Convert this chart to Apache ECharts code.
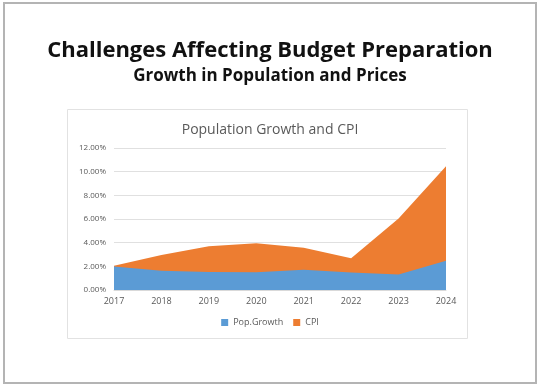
<!DOCTYPE html>
<html><head><meta charset="utf-8">
<script src="https://cdn.jsdelivr.net/npm/echarts@6/dist/echarts.min.js"></script>
<style>html,body{margin:0;padding:0;background:#fff}#c{width:540px;height:385px}</style>
</head><body><div id="c"></div>
<script>
const years = ['2017','2018','2019','2020','2021','2022','2023','2024'];
const popGrowth = [1.98, 1.62, 1.53, 1.50, 1.72, 1.47, 1.30, 2.48];
const cpi = [2.05, 2.95, 3.70, 3.95, 3.58, 2.68, 6.05, 10.45];
const yTicks = [0, 2, 4, 6, 8, 10, 12];

const chart = echarts.init(document.getElementById('c'), null, {renderer:'canvas'});
chart.setOption({
  animation:false,
  backgroundColor:'#fff',
  graphic:[
    {type:'rect', shape:{x:4, y:3, width:532, height:380}, style:{fill:'none', stroke:'#b4b4b4', lineWidth:2}, z:-10},
    {type:'rect', shape:{x:67.5, y:109.5, width:400, height:229}, style:{fill:'#fff', stroke:'#e2e2e2', lineWidth:1}, z:-9}
  ],
  title:[
    {text:'Challenges Affecting Budget Preparation', left:'center', top:35,
     textStyle:{fontFamily:'Open Sans', fontWeight:'bold', fontSize:22, color:'#111'}},
    {text:'Growth in Population and Prices', left:'center', top:63,
     textStyle:{fontFamily:'Open Sans', fontWeight:'bold', fontSize:17, color:'#111'}},
    {text:'Population Growth and CPI', left:'center', top:118,
     textStyle:{fontFamily:'Open Sans', fontWeight:'normal', fontSize:14, color:'#595959'}}
  ],
  legend:{
    data:['Pop.Growth','CPI'], bottom:53, left:'center', itemWidth:7, itemHeight:7, itemGap:10,
    icon:'rect', textStyle:{fontFamily:'Open Sans', fontSize:9, color:'#595959'}
  },
  grid:{left:114, right:94, top:148, bottom:95},
  xAxis:{
    type:'category', data:years, boundaryGap:false,
    axisLine:{lineStyle:{color:'#d9d9d9'}}, axisTick:{show:false},
    axisLabel:{fontFamily:'Open Sans', fontSize:9, color:'#595959', margin:7}
  },
  yAxis:{
    type:'value', min:0, max:12, interval:2,
    axisLine:{show:false}, axisTick:{show:false},
    splitLine:{lineStyle:{color:'#e0e0e0'}},
    axisLabel:{fontFamily:'Open Sans', fontSize:8, color:'#595959', margin:8,
      formatter:v => yTicks.includes(v) ? v.toFixed(2)+'%' : ''}
  },
  series:[
    {name:'Pop.Growth', type:'line', data:popGrowth, symbol:'none', z:3,
     lineStyle:{width:0}, itemStyle:{color:'#5B9BD5'}, areaStyle:{color:'#5B9BD5', opacity:1}},
    {name:'CPI', type:'line', data:cpi, symbol:'none', z:2,
     lineStyle:{width:0}, itemStyle:{color:'#ED7D31'}, areaStyle:{color:'#ED7D31', opacity:1}}
  ]
});
</script></body></html>
